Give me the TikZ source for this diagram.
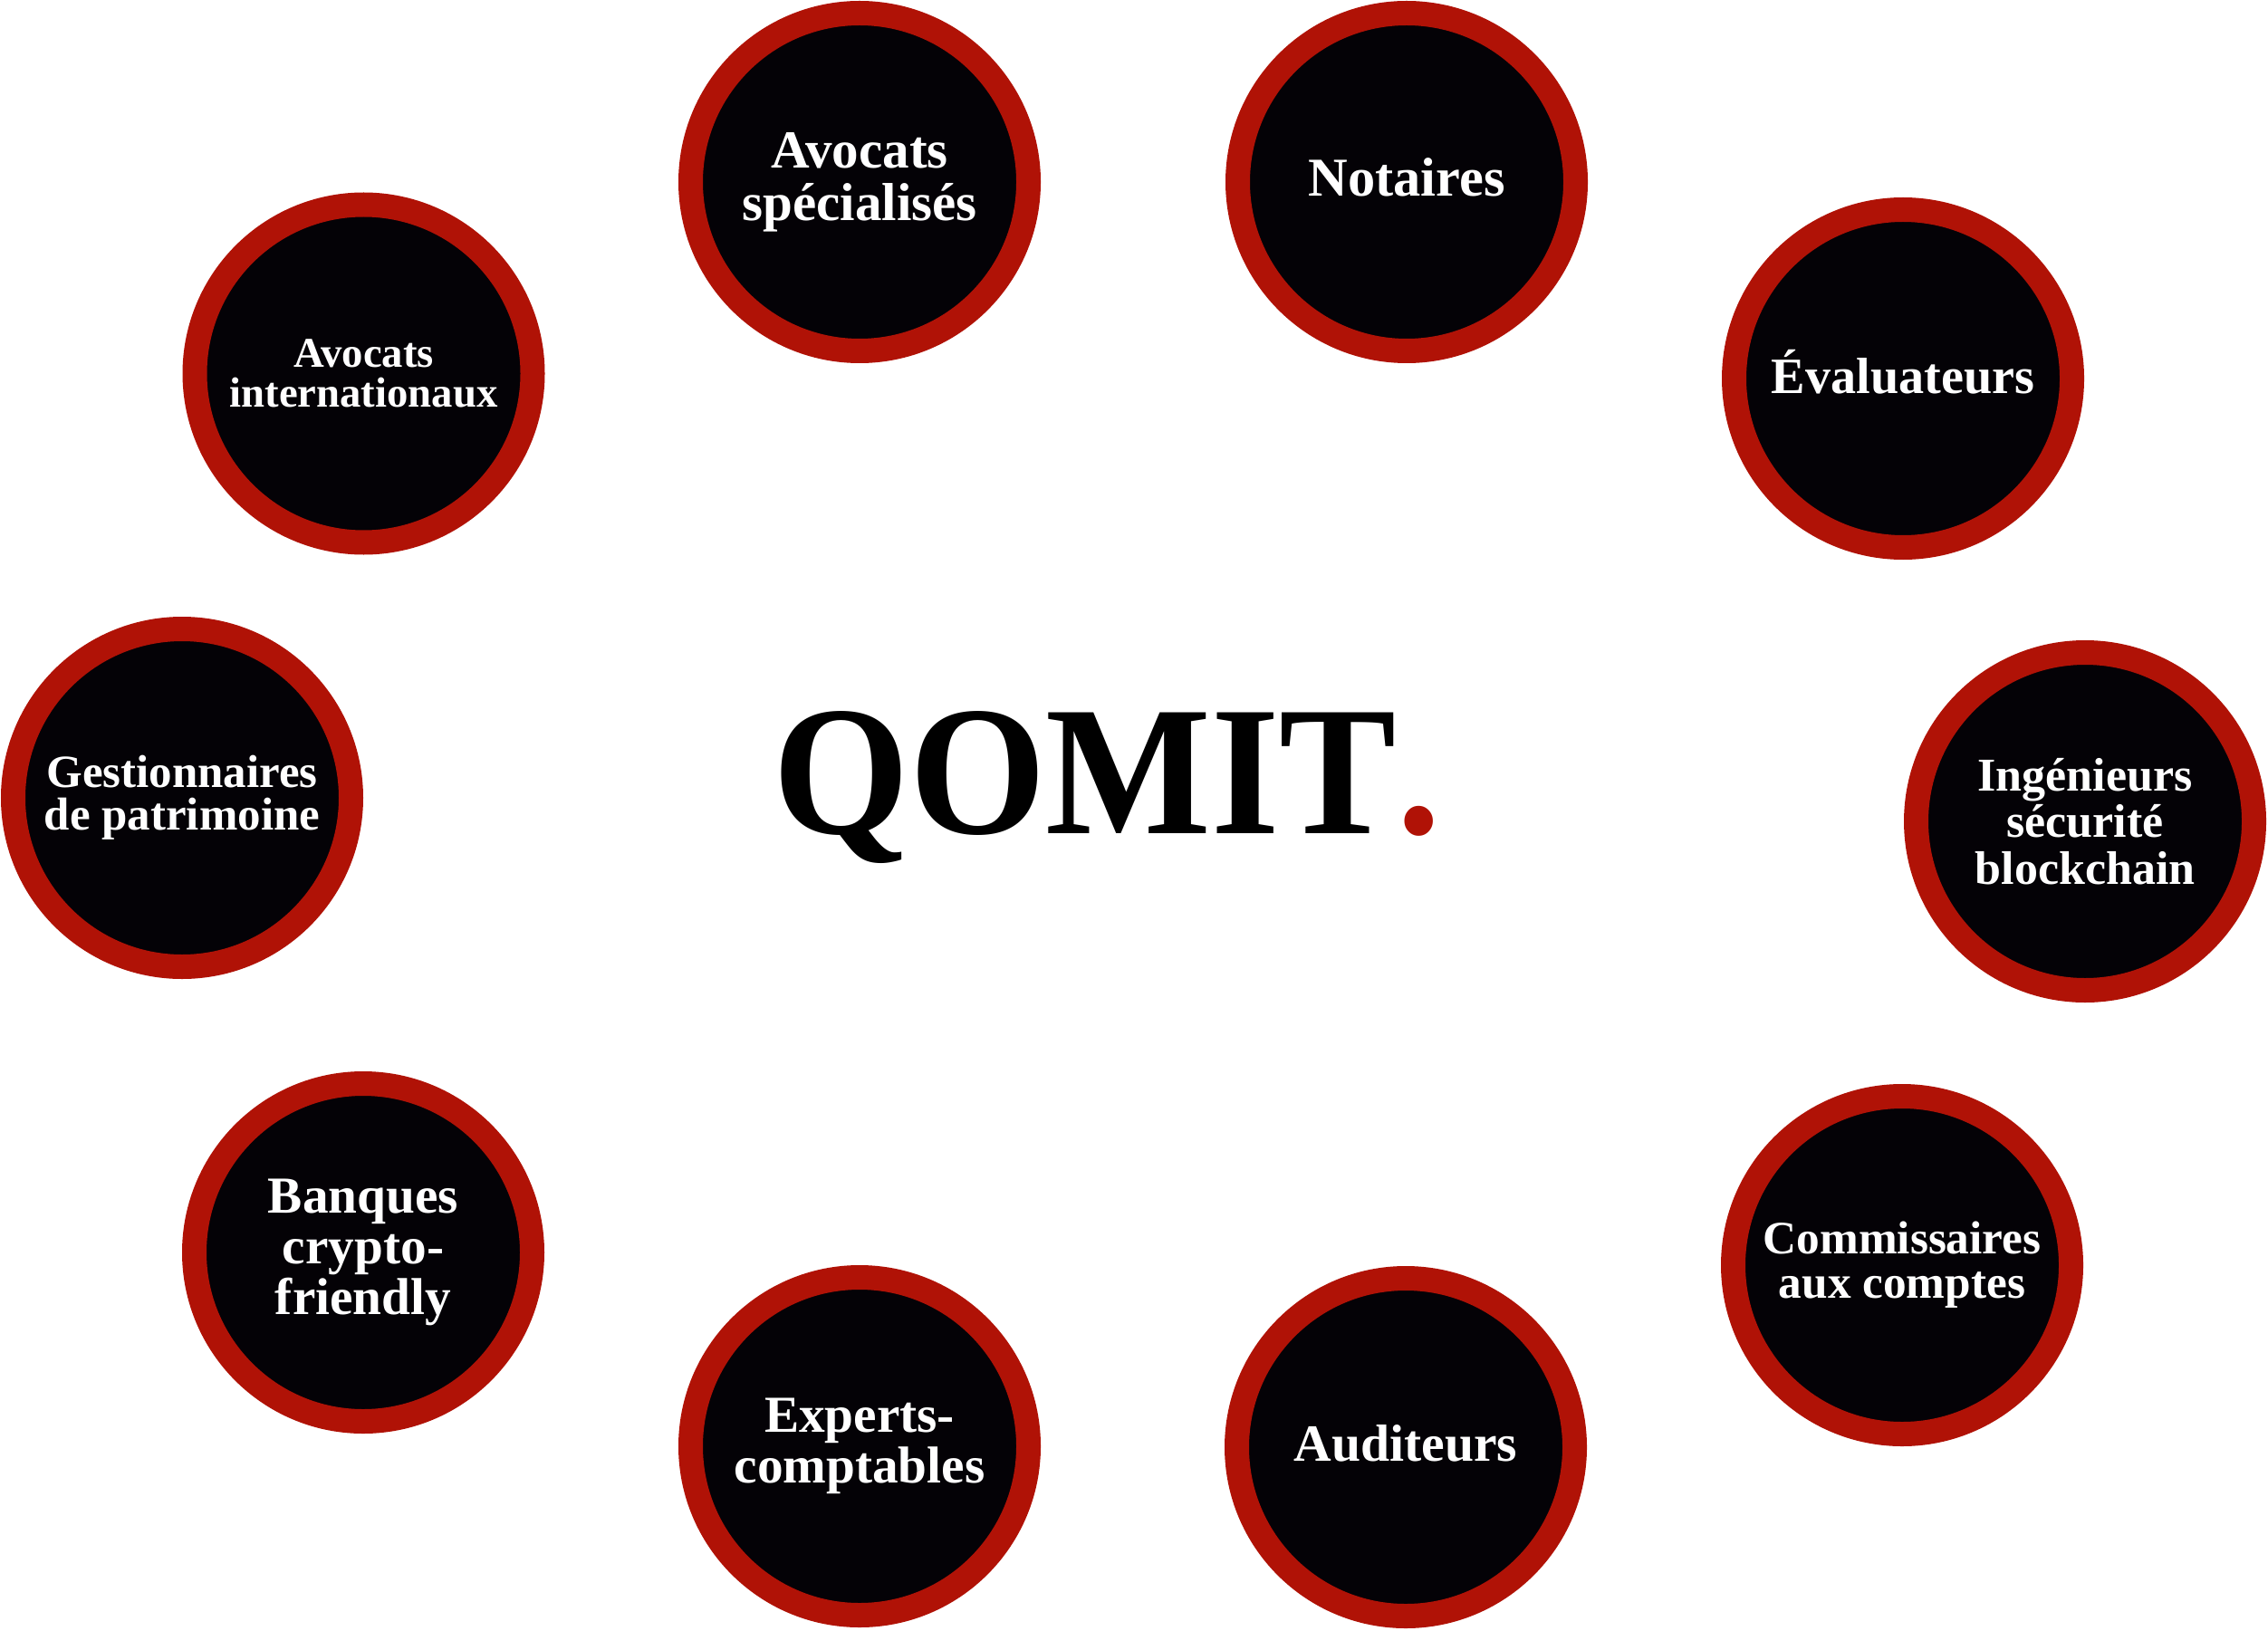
\documentclass[tikz,border=0pt]{standalone}
\usepackage{fontspec}
\setmainfont{Liberation Serif}
\usetikzlibrary{positioning}
\definecolor{qred}{RGB}{176,18,6}
\definecolor{qblack}{RGB}{4,2,6}

\begin{document}
\begin{tikzpicture}
\tikzstyle{partner} = [circle, minimum size=3.73cm, inner sep=0pt, line width=2.7mm, draw=qred, fill=qblack, text=white, align=center]
\tikzstyle{logo} = [anchor=base, xscale=0.95, font=\bfseries\fontsize{58}{58}\selectfont]

\useasboundingbox (0,0) rectangle (25.04,18);

\node (Logo) [logo] at (12.22,8.80) {QOMIT\textcolor{qred}{.}};

\node (AvocatsSpec) [partner, font=\bfseries\fontsize{16.8}{16.5}\selectfont] at (9.49,15.99) {Avocats\\spécialisés};
\node (Notaires) [partner, font=\bfseries\fontsize{17.2}{17}\selectfont, text depth=1mm] at (15.53,15.99) {Notaires};
\node (Evaluateurs) [partner, font=\bfseries\fontsize{16}{16}\selectfont, text depth=1.6mm] at (21.01,13.82) {Évaluateurs};
\node (Ingenieurs) [partner, font=\bfseries\fontsize{14.8}{14.7}\selectfont] at (23.02,8.93) {Ingénieurs\\sécurité\\blockchain};
\node (Commissaires) [partner, font=\bfseries\fontsize{14.6}{14}\selectfont] at (21.00,4.03) {Commissaires\\aux comptes};
\node (Auditeurs) [partner, font=\bfseries\fontsize{16.4}{16}\selectfont, text depth=1mm] at (15.52,2.02) {Auditeurs};
\node (Experts) [partner, font=\bfseries\fontsize{16.3}{16}\selectfont] at (9.49,2.03) {Experts-\\comptables};
\node (Banques) [partner, font=\bfseries\fontsize{16.3}{16}\selectfont] at (4.01,4.17) {Banques\\crypto-\\friendly};
\node (Gestionnaires) [partner, font=\bfseries\fontsize{14.5}{13.5}\selectfont] at (2.01,9.19) {Gestionnaires\\de patrimoine};
\node (AvocatsInt) [partner, font=\bfseries\fontsize{13.3}{12.5}\selectfont] at (4.015,13.875) {Avocats\\internationaux};
\end{tikzpicture}
\end{document}
